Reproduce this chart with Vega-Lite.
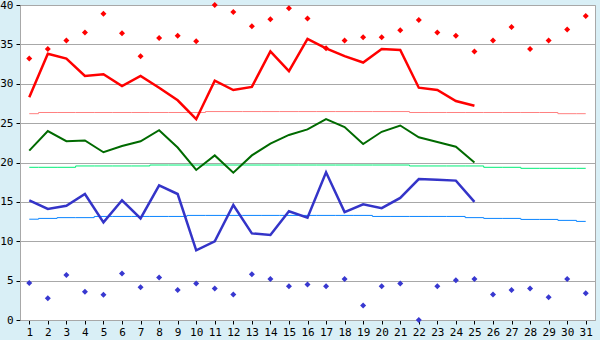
{
  "$schema": "https://vega.github.io/schema/vega-lite/v6.json",
  "width": 575,
  "height": 315,
  "autosize": {"type": "none"},
  "padding": {"left": 20, "top": 5, "right": 5, "bottom": 20},
  "background": "#d9eff6",
  "config": {
    "view": {"fill": "white", "stroke": "#a8a8a8", "strokeWidth": 1},
    "axis": {
      "labelFont": "DejaVu Sans Mono",
      "labelFontSize": 11,
      "labelColor": "#000",
      "domainColor": "#a8a8a8",
      "tickColor": "#000",
      "tickSize": 4,
      "gridColor": "#a8a8a8",
      "title": null,
      "labelOverlap": false
    }
  },
  "datasets": {
    "obs": [
      {"day": 1, "max": 28.3, "mean": 21.5, "min": 15.2},
      {"day": 2, "max": 33.8, "mean": 24.0, "min": 14.1},
      {"day": 3, "max": 33.2, "mean": 22.7, "min": 14.5},
      {"day": 4, "max": 31.0, "mean": 22.8, "min": 16.0},
      {"day": 5, "max": 31.2, "mean": 21.3, "min": 12.4},
      {"day": 6, "max": 29.7, "mean": 22.1, "min": 15.2},
      {"day": 7, "max": 31.0, "mean": 22.7, "min": 12.9},
      {"day": 8, "max": 29.5, "mean": 24.1, "min": 17.1},
      {"day": 9, "max": 27.9, "mean": 21.9, "min": 16.0},
      {"day": 10, "max": 25.5, "mean": 19.05, "min": 8.85},
      {"day": 11, "max": 30.4, "mean": 20.9, "min": 10.0},
      {"day": 12, "max": 29.2, "mean": 18.7, "min": 14.6},
      {"day": 13, "max": 29.6, "mean": 20.9, "min": 11.0},
      {"day": 14, "max": 34.1, "mean": 22.4, "min": 10.8},
      {"day": 15, "max": 31.6, "mean": 23.5, "min": 13.8},
      {"day": 16, "max": 35.7, "mean": 24.2, "min": 13.0},
      {"day": 17, "max": 34.5, "mean": 25.5, "min": 18.75},
      {"day": 18, "max": 33.5, "mean": 24.5, "min": 13.7},
      {"day": 19, "max": 32.7, "mean": 22.35, "min": 14.7},
      {"day": 20, "max": 34.4, "mean": 23.9, "min": 14.2},
      {"day": 21, "max": 34.3, "mean": 24.7, "min": 15.5},
      {"day": 22, "max": 29.5, "mean": 23.2, "min": 17.9},
      {"day": 23, "max": 29.2, "mean": 22.6, "min": 17.8},
      {"day": 24, "max": 27.8, "mean": 22.0, "min": 17.7},
      {"day": 25, "max": 27.2, "mean": 20.0, "min": 15.0}
    ],
    "rec": [
      {"day": 1, "hi": 33.2, "lo": 4.7},
      {"day": 2, "hi": 34.4, "lo": 2.75},
      {"day": 3, "hi": 35.5, "lo": 5.7},
      {"day": 4, "hi": 36.5, "lo": 3.6},
      {"day": 5, "hi": 38.9, "lo": 3.2},
      {"day": 6, "hi": 36.4, "lo": 5.9},
      {"day": 7, "hi": 33.5, "lo": 4.15},
      {"day": 8, "hi": 35.8, "lo": 5.4},
      {"day": 9, "hi": 36.1, "lo": 3.8},
      {"day": 10, "hi": 35.4, "lo": 4.65},
      {"day": 11, "hi": 40.0, "lo": 4.0},
      {"day": 12, "hi": 39.1, "lo": 3.25},
      {"day": 13, "hi": 37.3, "lo": 5.8},
      {"day": 14, "hi": 38.2, "lo": 5.2},
      {"day": 15, "hi": 39.6, "lo": 4.3},
      {"day": 16, "hi": 38.3, "lo": 4.5},
      {"day": 17, "hi": 34.5, "lo": 4.3},
      {"day": 18, "hi": 35.5, "lo": 5.2},
      {"day": 19, "hi": 35.9, "lo": 1.85},
      {"day": 20, "hi": 35.9, "lo": 4.3},
      {"day": 21, "hi": 36.8, "lo": 4.65},
      {"day": 22, "hi": 38.1, "lo": 0.0},
      {"day": 23, "hi": 36.5, "lo": 4.3},
      {"day": 24, "hi": 36.1, "lo": 5.05},
      {"day": 25, "hi": 34.1, "lo": 5.2},
      {"day": 26, "hi": 35.5, "lo": 3.25},
      {"day": 27, "hi": 37.2, "lo": 3.8},
      {"day": 28, "hi": 34.4, "lo": 4.0},
      {"day": 29, "hi": 35.5, "lo": 2.9},
      {"day": 30, "hi": 36.9, "lo": 5.2},
      {"day": 31, "hi": 38.6, "lo": 3.4}
    ],
    "norm": [
      {"day": 1, "nmax": 26.2, "nmean": 19.39, "nmin": 12.8},
      {"day": 2, "nmax": 26.35, "nmean": 19.39, "nmin": 12.9},
      {"day": 3, "nmax": 26.35, "nmean": 19.39, "nmin": 13.0},
      {"day": 4, "nmax": 26.35, "nmean": 19.56, "nmin": 13.0},
      {"day": 5, "nmax": 26.35, "nmean": 19.56, "nmin": 13.15},
      {"day": 6, "nmax": 26.35, "nmean": 19.56, "nmin": 13.15},
      {"day": 7, "nmax": 26.35, "nmean": 19.56, "nmin": 13.15},
      {"day": 8, "nmax": 26.35, "nmean": 19.68, "nmin": 13.15},
      {"day": 9, "nmax": 26.35, "nmean": 19.68, "nmin": 13.15},
      {"day": 10, "nmax": 26.35, "nmean": 19.68, "nmin": 13.28},
      {"day": 11, "nmax": 26.47, "nmean": 19.68, "nmin": 13.28},
      {"day": 12, "nmax": 26.47, "nmean": 19.68, "nmin": 13.28},
      {"day": 13, "nmax": 26.47, "nmean": 19.68, "nmin": 13.28},
      {"day": 14, "nmax": 26.47, "nmean": 19.68, "nmin": 13.28},
      {"day": 15, "nmax": 26.47, "nmean": 19.68, "nmin": 13.28},
      {"day": 16, "nmax": 26.47, "nmean": 19.68, "nmin": 13.28},
      {"day": 17, "nmax": 26.47, "nmean": 19.68, "nmin": 13.28},
      {"day": 18, "nmax": 26.47, "nmean": 19.68, "nmin": 13.28},
      {"day": 19, "nmax": 26.47, "nmean": 19.68, "nmin": 13.28},
      {"day": 20, "nmax": 26.47, "nmean": 19.68, "nmin": 13.15},
      {"day": 21, "nmax": 26.47, "nmean": 19.68, "nmin": 13.15},
      {"day": 22, "nmax": 26.35, "nmean": 19.56, "nmin": 13.15},
      {"day": 23, "nmax": 26.35, "nmean": 19.56, "nmin": 13.15},
      {"day": 24, "nmax": 26.35, "nmean": 19.56, "nmin": 13.15},
      {"day": 25, "nmax": 26.35, "nmean": 19.56, "nmin": 13.0},
      {"day": 26, "nmax": 26.35, "nmean": 19.39, "nmin": 12.9},
      {"day": 27, "nmax": 26.35, "nmean": 19.39, "nmin": 12.9},
      {"day": 28, "nmax": 26.35, "nmean": 19.26, "nmin": 12.77},
      {"day": 29, "nmax": 26.35, "nmean": 19.26, "nmin": 12.77},
      {"day": 30, "nmax": 26.2, "nmean": 19.26, "nmin": 12.65},
      {"day": 31, "nmax": 26.2, "nmean": 19.26, "nmin": 12.52}
    ]
  },
  "encoding": {
    "x": {
      "field": "day",
      "type": "quantitative",
      "scale": {"domain": [0.5, 31.5], "nice": false, "zero": false},
      "axis": {
        "values": [1,2,3,4,5,6,7,8,9,10,11,12,13,14,15,16,17,18,19,20,21,22,23,24,25,26,27,28,29,30,31],
        "format": "d",
        "grid": false,
        "labelPadding": 2,
        "labelFlush": false
      }
    }
  },
  "layer": [
    {
      "data": {"name": "norm"},
      "mark": {"type": "line", "interpolate": "step", "color": "#ff8080", "strokeWidth": 1},
      "encoding": {
        "y": {
          "field": "nmax",
          "type": "quantitative",
          "scale": {"domain": [0, 40], "nice": false},
          "axis": {"values": [0,5,10,15,20,25,30,35,40], "grid": true, "labelPadding": 3, "labelFlush": false}
        }
      }
    },
    {
      "data": {"name": "norm"},
      "mark": {"type": "line", "interpolate": "step", "color": "#00ee77", "strokeWidth": 1},
      "encoding": {"y": {"field": "nmean", "type": "quantitative", "axis": {"values": [0,5,10,15,20,25,30,35,40], "grid": true, "labelPadding": 3, "labelFlush": false}}}
    },
    {
      "data": {"name": "norm"},
      "mark": {"type": "line", "interpolate": "step", "color": "#0a84ff", "strokeWidth": 1},
      "encoding": {"y": {"field": "nmin", "type": "quantitative", "axis": {"values": [0,5,10,15,20,25,30,35,40], "grid": true, "labelPadding": 3, "labelFlush": false}}}
    },
    {
      "data": {"name": "rec"},
      "mark": {"type": "point", "shape": "diamond", "filled": true, "color": "#ff0000", "size": 36, "opacity": 1},
      "encoding": {"y": {"field": "hi", "type": "quantitative", "axis": {"values": [0,5,10,15,20,25,30,35,40], "grid": true, "labelPadding": 3, "labelFlush": false}}}
    },
    {
      "data": {"name": "rec"},
      "mark": {"type": "point", "shape": "diamond", "filled": true, "color": "#3838d0", "size": 36, "opacity": 1},
      "encoding": {"y": {"field": "lo", "type": "quantitative", "axis": {"values": [0,5,10,15,20,25,30,35,40], "grid": true, "labelPadding": 3, "labelFlush": false}}}
    },
    {
      "data": {"name": "obs"},
      "mark": {"type": "line", "color": "#ff0000", "strokeWidth": 2.5},
      "encoding": {"y": {"field": "max", "type": "quantitative", "axis": {"values": [0,5,10,15,20,25,30,35,40], "grid": true, "labelPadding": 3, "labelFlush": false}}}
    },
    {
      "data": {"name": "obs"},
      "mark": {"type": "line", "color": "#006a00", "strokeWidth": 2},
      "encoding": {"y": {"field": "mean", "type": "quantitative", "axis": {"values": [0,5,10,15,20,25,30,35,40], "grid": true, "labelPadding": 3, "labelFlush": false}}}
    },
    {
      "data": {"name": "obs"},
      "mark": {"type": "line", "color": "#3434c8", "strokeWidth": 2.5},
      "encoding": {"y": {"field": "min", "type": "quantitative", "axis": {"values": [0,5,10,15,20,25,30,35,40], "grid": true, "labelPadding": 3, "labelFlush": false}}}
    }
  ]
}
